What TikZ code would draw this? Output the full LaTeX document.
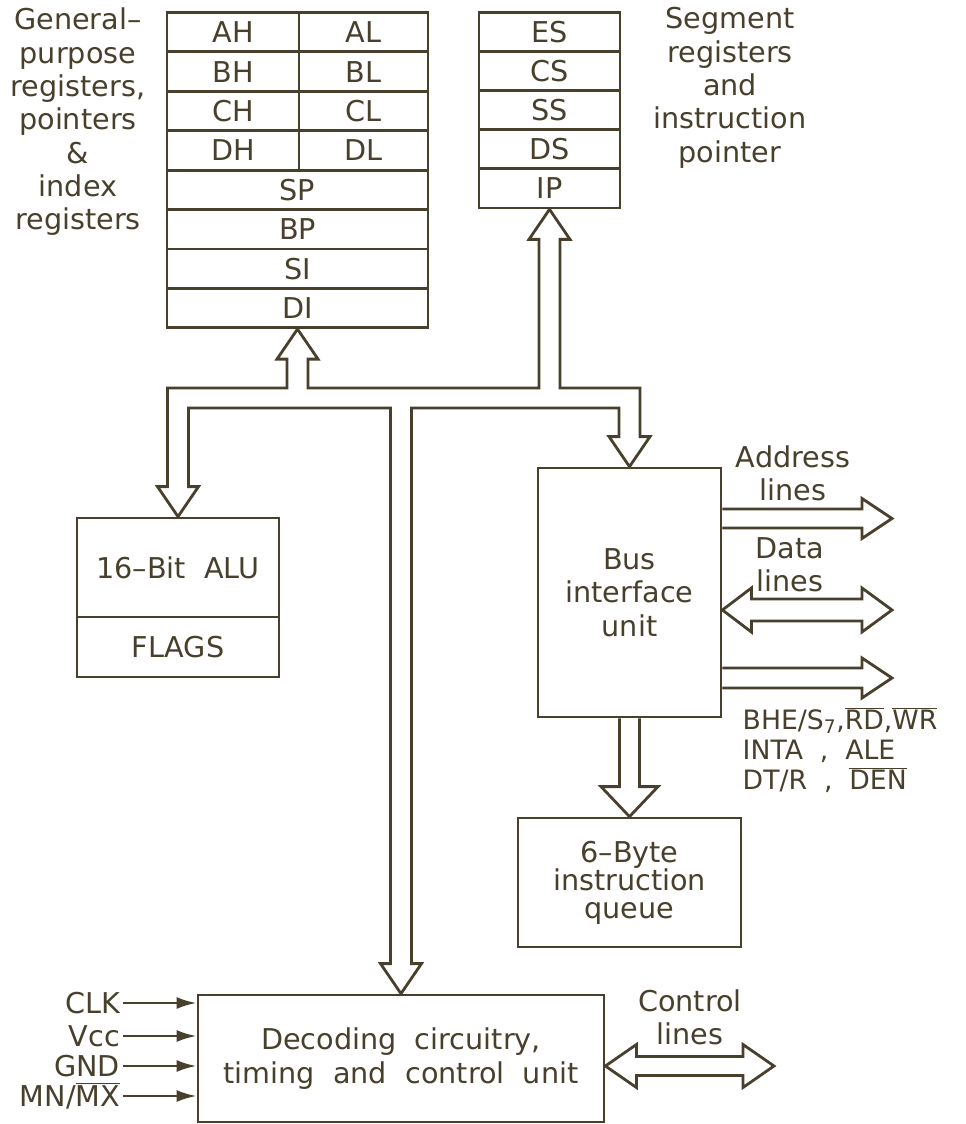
\documentclass[tikz,border=0pt]{standalone}
\usepackage{fontspec}
\setmainfont{DejaVu Sans}
\usetikzlibrary{calc,arrows.meta}
\definecolor{ink}{RGB}{72,64,44}
\newcommand{\ovl}[1]{$\overline{\hbox{#1}}$}
\tikzset{
  reg/.style={draw=ink, line width=2.1pt, inner sep=0pt, text=ink, font=\fontsize{21.5}{25}\selectfont, align=center},
  lbl/.style={text=ink, align=center, font=\fontsize{21.5}{25}\selectfont},
  bus/.style={draw=ink, line width=2.1pt, line join=miter},
  sig/.style={draw=ink, line width=2pt, -{Latex[length=15pt,width=9pt]}},
}
\begin{document}
\begin{tikzpicture}[x=0.75pt, y=-0.75pt]
\useasboundingbox[fill=white] (0,0) rectangle (966,1124);

% register file
\node[reg, minimum width=99pt, minimum height=29.55pt] (AH) at (233,32.2) {AH};
\node[reg, minimum width=96.75pt, minimum height=29.55pt] (AL) at (363.5,32.2) {AL};
\node[reg, minimum width=99pt, minimum height=29.55pt] (BH) at (233,71.6) {BH};
\node[reg, minimum width=96.75pt, minimum height=29.55pt] (BL) at (363.5,71.6) {BL};
\node[reg, minimum width=99pt, minimum height=29.55pt] (CH) at (233,111) {CH};
\node[reg, minimum width=96.75pt, minimum height=29.55pt] (CL) at (363.5,111) {CL};
\node[reg, minimum width=99pt, minimum height=29.55pt] (DH) at (233,150.4) {DH};
\node[reg, minimum width=96.75pt, minimum height=29.55pt] (DL) at (363.5,150.4) {DL};
\node[reg, minimum width=195.75pt, minimum height=29.55pt] (SP) at (297.5,189.8) {SP};
\node[reg, minimum width=195.75pt, minimum height=29.55pt] (BP) at (297.5,229.2) {BP};
\node[reg, minimum width=195.75pt, minimum height=29.55pt] (SI) at (297.5,268.6) {SI};
\node[reg, minimum width=195.75pt, minimum height=29.55pt] (DI) at (297.5,308) {DI};
\node[lbl] (gprlbl) at (78,122) {General--\\purpose\\registers,\\pointers\\\&\\index\\registers};

% segment registers
\node[reg, minimum width=105.75pt, minimum height=29.3pt] (ES) at (549.5,32.05) {ES};
\node[reg, minimum width=105.75pt, minimum height=29.3pt] (CS) at (549.5,71.15) {CS};
\node[reg, minimum width=105.75pt, minimum height=29.3pt] (SS) at (549.5,110.25) {SS};
\node[reg, minimum width=105.75pt, minimum height=29.3pt] (DS) at (549.5,149.35) {DS};
\node[reg, minimum width=105.75pt, minimum height=29.3pt] (IP) at (549.5,188.45) {IP};
\node[lbl] (seglbl) at (730,88) {Segment\\registers\\and\\instruction\\pointer};

% units
\node[reg, minimum width=151.5pt, minimum height=74.25pt] (alu) at (178,567.5) {16--Bit\ \ ALU};
\node[reg, minimum width=151.5pt, minimum height=45pt] (flags) at (178,647) {FLAGS};
\node[reg, minimum width=137.25pt, minimum height=186.75pt] (BIU) at (629.5,592.5) {Bus\\interface\\unit};
\node[reg, minimum width=167.25pt, minimum height=96.75pt, font=\fontsize{21.5}{21}\selectfont] (queue) at (629.5,882.5) {6--Byte\\instruction\\queue};
\node[reg, minimum width=304.5pt, minimum height=95.25pt] (dec) at (401,1058.5) {Decoding\ \ circuitry,\\timing\ \ and\ \ control\ \ unit};

% internal bus
\coordinate (bt) at (0,388);
\coordinate (bb) at (0,408);
\draw[bus] (DI.south) -- ++(20.5,30) -- ++(-10,0) -- ($(DI.south |- bt)+(10.5,0)$)
  -- ($(IP.south |- bt)+(-10.5,0)$) -- ($(IP.south)+(-10.5,30)$) -- ++(-10,0) -- (IP.south)
  -- ++(20.5,30) -- ++(-10,0) -- ($(IP.south |- bt)+(10.5,0)$)
  -- ($(BIU.north |- bt)+(10.5,0)$) -- ($(BIU.north)+(10.5,-30)$) -- ++(10,0) -- (BIU.north)
  -- ++(-20.5,-30) -- ++(10,0) -- ($(BIU.north |- bb)+(-10.5,0)$)
  -- ($(dec.north |- bb)+(10.5,0)$) -- ($(dec.north)+(10.5,-30)$) -- ++(10,0) -- (dec.north)
  -- ++(-20.5,-30) -- ++(10,0) -- ($(dec.north |- bb)+(-10.5,0)$)
  -- ($(alu.north |- bb)+(10.5,0)$) -- ($(alu.north)+(10.5,-30)$) -- ++(10,0) -- (alu.north)
  -- ++(-20.5,-30) -- ++(10,0) -- ($(alu.north |- bt)+(-10.5,0)$)
  -- ($(DI.south |- bt)+(-10.5,0)$) -- ($(DI.south)+(-10.5,30)$) -- ++(-10,0) -- cycle;

% external buses of the BIU
\coordinate (addr) at (892,518.5);
\coordinate (dl) at (892,610);
\coordinate (cl) at (892,678);
\draw[bus] ($(BIU.east |- addr)+(0,-9.5)$) -- ($(addr)+(-30,-9.5)$) -- ++(0,-10.5) -- (addr)
  -- ++(-30,20) -- ++(0,-10.5) -- ($(BIU.east |- addr)+(0,9.5)$);
\draw[bus] (BIU.east |- dl) -- ++(29,-22) -- ++(0,11) -- ($(dl)+(-30,-11)$) -- ++(0,-11) -- (dl)
  -- ++(-30,22) -- ++(0,-11) -- ($(BIU.east |- dl)+(29,11)$) -- ++(0,11) -- cycle;
\draw[bus] ($(BIU.east |- cl)+(0,-10)$) -- ($(cl)+(-30,-10)$) -- ++(0,-10) -- (cl)
  -- ++(-30,20) -- ++(0,-10) -- ($(BIU.east |- cl)+(0,10)$);
\draw[bus] ($(BIU.south)+(-10,0)$) -- ($(queue.north)+(-10,-30)$) -- ++(-18.5,0) -- (queue.north)
  -- ++(28.5,-30) -- ++(-18.5,0) -- ($(BIU.south)+(10,0)$);
\node[lbl] (addrlbl) at (793,473) {Address\\lines};
\node[lbl] (datalbl) at (790,565) {Data\\lines};
\node[lbl, align=left, anchor=west, font=\fontsize{20}{22.5}\selectfont] (ctlsig) at (738,750)
  {BHE/S\textsubscript{7},\ovl{RD},\ovl{WR}\\INTA\ \ ,\ \ ALE\\DT/R\ \ ,\ \ \ovl{DEN}};

% control lines
\coordinate (ctl) at (774,1066);
\draw[bus] (dec.east |- ctl) -- ++(31,-21.5) -- ++(0,12) -- ($(ctl)+(-31,-9.5)$) -- ++(0,-12) -- (ctl)
  -- ++(-31,21.5) -- ++(0,-12) -- ($(dec.east |- ctl)+(31,9.5)$) -- ++(0,12) -- cycle;
\node[lbl] (ctllbl) at (690,1017) {Control\\lines};

% input pins
\node[lbl, anchor=east, inner sep=2pt] (clk) at (123,1003) {CLK};
\node[lbl, anchor=east, inner sep=2pt] (vcc) at (123,1036) {Vcc};
\node[lbl, anchor=east, inner sep=2pt] (gnd) at (123,1066) {GND};
\node[lbl, anchor=east, inner sep=2pt] (mnmx) at (123,1096) {MN/\ovl{MX}};
\draw[sig] (clk.east) -- (dec.west |- clk.east);
\draw[sig] (vcc.east) -- (dec.west |- vcc.east);
\draw[sig] (gnd.east) -- (dec.west |- gnd.east);
\draw[sig] (mnmx.east) -- (dec.west |- mnmx.east);
\end{tikzpicture}
\end{document}
